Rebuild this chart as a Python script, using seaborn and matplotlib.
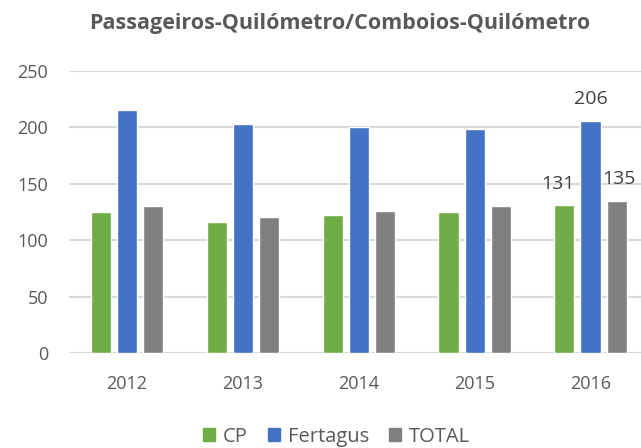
import matplotlib
matplotlib.use("Agg")
import matplotlib.pyplot as plt
import pandas as pd
import seaborn as sns

years = ["2012", "2013", "2014", "2015", "2016"]
series = ["CP", "Fertagus", "TOTAL"]
cp = [125, 116, 122, 125, 131]
fertagus = [215, 203, 200, 199, 206]
total = [130, 121, 126, 130, 135]
colors = ["#70AD47", "#4472C4", "#808080"]

sns.set_theme(style="white")
plt.rcParams["font.family"] = ["Open Sans", "DejaVu Sans"]

df = pd.DataFrame({
    "ano": years * 3,
    "serie": [s for s in series for _ in years],
    "valor": cp + fertagus + total,
})

fig = plt.figure(figsize=(6.41, 4.48), dpi=100)
ax = fig.add_axes([0.1076, 0.212, 0.904, 0.6295])
sns.barplot(data=df, x="ano", y="valor", hue="serie", palette=colors,
            saturation=1, width=0.675, gap=0.23, ax=ax, legend=False, zorder=3)

ax.set_ylim(0, 250)
ax.set_xlim(-0.5, 4.5)
ax.set_yticks(range(0, 251, 50))
ax.grid(axis="y", color="#d9d9d9", linewidth=1.5, zorder=0)
ax.set_axisbelow(True)
for s in ax.spines.values():
    s.set_visible(False)
ax.tick_params(axis="both", length=0, labelsize=13, labelcolor="#595959")
ax.tick_params(axis="x", pad=16)
ax.tick_params(axis="y", pad=15)
ax.set_xlabel("")
ax.set_ylabel("")

# data labels only on the last year (CP label nudged left, as in the source)
shifts = [-5, 0, 2]
for cont, dx in zip(ax.containers, shifts):
    bar = cont.patches[-1]
    ax.annotate(f"{bar.get_height():.0f}",
                (bar.get_x() + bar.get_width() / 2, bar.get_height()),
                xytext=(dx, 9), textcoords="offset points",
                ha="center", va="bottom", fontsize=14, color="#404040",
                annotation_clip=False)

fig.text(0.53, 0.948, "Passageiros-Quilómetro/Comboios-Quilómetro",
         ha="center", va="center", fontsize=15.5, fontweight="bold", color="#595959")

handles = [plt.Rectangle((0, 0), 1, 1, color=c) for c in colors]
fig.legend(handles, series, loc="center", bbox_to_anchor=(0.525, 0.025),
           ncol=3, frameon=False, fontsize=14.5, handlelength=0.6,
           handleheight=0.6, handletextpad=0.4, columnspacing=1.0,
           labelcolor="#595959")

fig.savefig("out.png", dpi=100)
